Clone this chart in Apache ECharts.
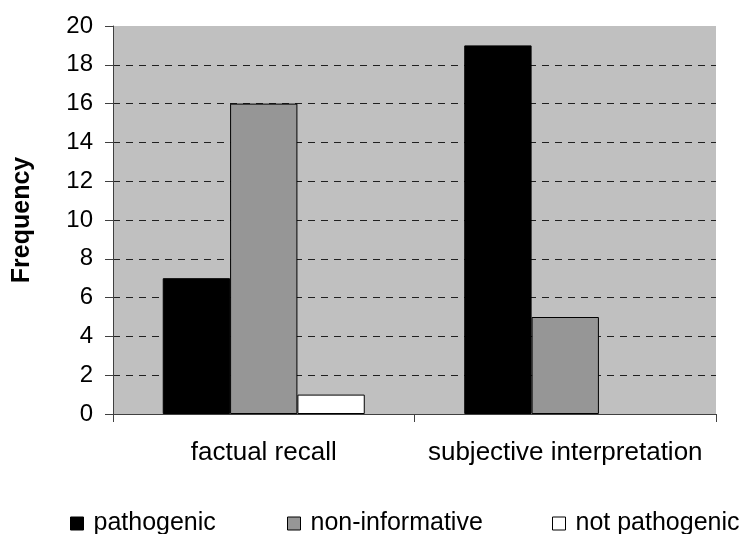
<!DOCTYPE html>
<html>
<head>
<meta charset="utf-8">
<script src="https://cdn.jsdelivr.net/npm/echarts@6/dist/echarts.min.js"></script>
<style>
  html, body { margin: 0; padding: 0; background: #fff; }
  #main { width: 744px; height: 534px; }
</style>
</head>
<body>
<div id="main"></div>
<script>
const categories = ["factual recall", "subjective interpretation"];
const pathogenic = [7, 19];
const nonInformative = [16, 5];
const notPathogenic = [1, 0];
const seriesNames = ["pathogenic", "non-informative", "not pathogenic"];
const seriesColors = ["#000000", "#969696", "#ffffff"];

const chart = echarts.init(document.getElementById("main"));
const font = "Liberation Sans, Arial, sans-serif";

// one legend per item so each can sit where the original had it
const legendLeft = [70, 287, 552];
const legends = seriesNames.map((name, i) => ({
  data: [name],
  left: legendLeft[i],
  top: 511,
  padding: 0,
  icon: "rect",
  itemWidth: 13,
  itemHeight: 13,
  itemGap: 0,
  textStyle: { fontFamily: font, fontSize: 25, color: "#000", padding: [0, 0, 0, 5] },
  itemStyle: { borderColor: "#000", borderWidth: 1 }
}));

const makeSeries = (name, data, i) => ({
  name: name,
  type: "bar",
  // a zero bar leaves no mark in the original
  data: data.map(v => v === 0 ? { value: v, itemStyle: { borderWidth: 0 } } : v),
  barGap: "0%",
  barCategoryGap: "33%",
  itemStyle: { color: seriesColors[i], borderColor: "#000", borderWidth: 1 },
  emphasis: { disabled: true }
});

chart.setOption({
  animation: false,
  textStyle: { fontFamily: font },
  legend: legends,
  grid: { left: 113, right: 28, top: 26, bottom: 120, show: true, backgroundColor: "#c0c0c0", borderWidth: 0 },
  xAxis: {
    type: "category",
    data: categories,
    axisLine: { lineStyle: { color: "#404040", width: 1 } },
    axisTick: { show: true, length: 8, lineStyle: { color: "#404040" } },
    axisLabel: { interval: 0, fontFamily: font, fontSize: 26, color: "#000", margin: 26 }
  },
  yAxis: {
    type: "value",
    min: 0,
    max: 20,
    interval: 2,
    name: "Frequency",
    nameLocation: "middle",
    nameGap: 78,
    nameTextStyle: { fontFamily: font, fontSize: 25, fontWeight: "bold", color: "#000" },
    axisLine: { show: true, lineStyle: { color: "#404040", width: 1 } },
    axisTick: { show: true, length: 8, lineStyle: { color: "#404040" } },
    axisLabel: { fontFamily: font, fontSize: 24, color: "#000", margin: 20 },
    splitLine: { show: true, showMaxLine: false, lineStyle: { color: "#202020", type: [7, 6], width: 1 } }
  },
  series: [
    makeSeries(seriesNames[0], pathogenic, 0),
    makeSeries(seriesNames[1], nonInformative, 1),
    makeSeries(seriesNames[2], notPathogenic, 2)
  ]
});
</script>
</body>
</html>
